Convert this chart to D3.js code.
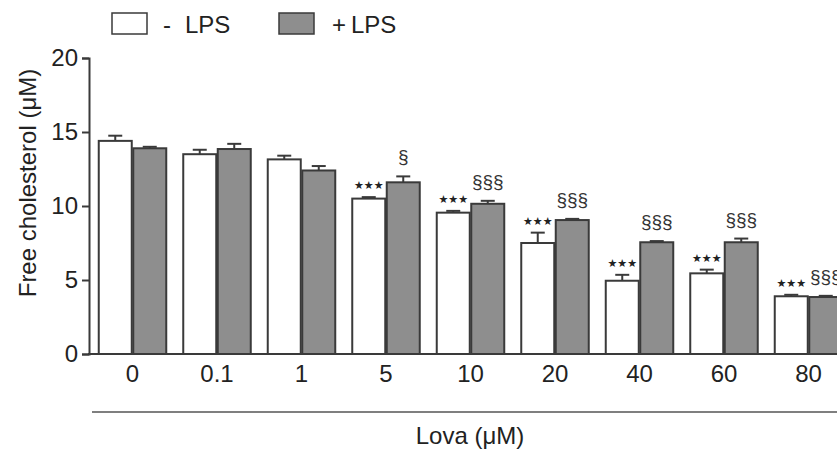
<!DOCTYPE html>
<html lang="en">
<head>
  <meta charset="UTF-8">
  <title>Free cholesterol vs Lova</title>
  <script src="https://d3js.org/d3.v7.min.js"></script>
  <style>
    html, body { margin: 0; padding: 0; background: #fff; }
    svg { display: block; font-family: "Liberation Sans", Arial, sans-serif; }
  </style>
</head>
<body>
  <svg id="chart" width="837" height="450"></svg>
  <script>
    // data
    const doses = ['0', '0.1', '1', '5', '10', '20', '40', '60', '80'];
    const series = ['- LPS', '+ LPS'];
    const minusLps = [14.4, 13.5, 13.15, 10.5, 9.55, 7.5, 4.95, 5.45, 3.9];
    const minusLpsErr = [0.35, 0.3, 0.25, 0.1, 0.12, 0.7, 0.4, 0.25, 0.1];
    const plusLps = [13.9, 13.85, 12.4, 11.6, 10.15, 9.05, 7.55, 7.55, 3.85];
    const plusLpsErr = [0.1, 0.35, 0.3, 0.4, 0.2, 0.08, 0.08, 0.25, 0.08];
    const minusMarks = ['', '', '', '★★★', '★★★', '★★★', '★★★', '★★★', '★★★'];
    const plusMarks = ['', '', '', '§', '§§§', '§§§', '§§§', '§§§', '§§§'];
    const yTicks = [0, 5, 10, 15, 20];

    const svg = d3.select('#chart');
    const ink = '#3a3a3a';
    const fills = ['#ffffff', '#8e8e8e'];
    const font = '"Liberation Sans", Arial, sans-serif';

    const y = d3.scaleLinear().domain([0, 20]).range([354, 58]);
    const x = d3.scaleBand().domain(doses)
      .range([90.25, 90.25 + 9 * 84.5])
      .paddingInner(15.5 / 84.5)
      .paddingOuter(7.75 / 84.5);
    const xs = d3.scaleBand().domain(series).range([0, x.bandwidth()]);

    const rows = doses.map((d, i) => ({
      dose: d,
      vals: [
        { s: series[0], v: minusLps[i], e: minusLpsErr[i], mark: minusMarks[i] },
        { s: series[1], v: plusLps[i], e: plusLpsErr[i], mark: plusMarks[i] }
      ]
    }));

    const groups = svg.append('g').selectAll('g')
      .data(rows).join('g')
      .attr('transform', d => `translate(${x(d.dose)},0)`);

    const bars = groups.selectAll('g').data(d => d.vals).join('g')
      .attr('transform', d => `translate(${xs(d.s)},0)`);

    // error bars (only upward)
    bars.append('line')
      .attr('x1', xs.bandwidth() / 2).attr('x2', xs.bandwidth() / 2)
      .attr('y1', d => y(d.v)).attr('y2', d => y(d.v + d.e))
      .attr('stroke', ink).attr('stroke-width', 2);
    bars.append('line')
      .attr('x1', xs.bandwidth() / 2 - 7).attr('x2', xs.bandwidth() / 2 + 7)
      .attr('y1', d => y(d.v + d.e)).attr('y2', d => y(d.v + d.e))
      .attr('stroke', ink).attr('stroke-width', 2);

    bars.append('rect')
      .attr('x', 0.75)
      .attr('y', d => y(d.v))
      .attr('width', xs.bandwidth() - 1.5)
      .attr('height', d => y(0) - y(d.v))
      .attr('fill', (d, i) => fills[i])
      .attr('stroke', ink).attr('stroke-width', 2);

    // significance marks
    bars.filter(d => d.mark.startsWith('★')).append('text')
      .attr('x', xs.bandwidth() / 2)
      .attr('y', d => y(d.v + d.e) - 8)
      .attr('text-anchor', 'middle')
      .attr('font-family', '"DejaVu Sans", sans-serif')
      .attr('font-size', 11)
      .attr('fill', '#222')
      .text(d => d.mark);
    bars.filter(d => d.mark.startsWith('§')).append('text')
      .attr('x', xs.bandwidth() / 2)
      .attr('y', d => y(d.v + d.e) - 13)
      .attr('text-anchor', 'middle')
      .attr('font-size', 19)
      .attr('fill', '#333')
      .text(d => d.mark);

    // axes
    const yAxis = svg.append('g')
      .attr('transform', 'translate(89,0)')
      .call(d3.axisLeft(y).tickValues(yTicks).tickSize(7).tickPadding(4));
    yAxis.select('.domain').attr('stroke', ink).attr('stroke-width', 2);
    yAxis.selectAll('.tick line').attr('stroke', ink).attr('stroke-width', 2);
    yAxis.selectAll('.tick text').attr('font-size', 24).attr('fill', '#222')
      .attr('font-family', font);

    const xAxis = svg.append('g')
      .attr('transform', `translate(0,${y(0)})`)
      .call(d3.axisBottom(x).tickSize(0).tickPadding(11));
    xAxis.select('.domain').remove();
    xAxis.selectAll('.tick text').attr('font-size', 24).attr('fill', '#222')
      .attr('font-family', font);
    svg.append('line')
      .attr('x1', 88).attr('x2', 837)
      .attr('y1', y(0)).attr('y2', y(0))
      .attr('stroke', ink).attr('stroke-width', 2);

    // lower bracket line and x title
    svg.append('line')
      .attr('x1', 92).attr('x2', 837).attr('y1', 412).attr('y2', 412)
      .attr('stroke', '#555').attr('stroke-width', 1.5);
    svg.append('text')
      .attr('x', 470).attr('y', 444)
      .attr('text-anchor', 'middle').attr('font-size', 24).attr('fill', '#222')
      .text('Lova (μM)');

    svg.append('text')
      .attr('transform', 'translate(36,183) rotate(-90)')
      .attr('text-anchor', 'middle').attr('font-size', 24).attr('fill', '#222')
      .text('Free cholesterol (μM)');

    // legend
    const legendX = [112, 279];
    const legend = svg.append('g').selectAll('g').data(series).join('g')
      .attr('transform', (d, i) => `translate(${legendX[i]},13)`);
    legend.append('rect')
      .attr('width', 35).attr('height', 21)
      .attr('fill', (d, i) => fills[i])
      .attr('stroke', ink).attr('stroke-width', 1.5);
    const legendText = legend.append('text')
      .attr('y', 20).attr('font-size', 24).attr('fill', '#222');
    legendText.append('tspan')
      .attr('x', (d, i) => i === 0 ? 51 : 53)
      .text(d => d.split(' ')[0]);
    legendText.append('tspan')
      .attr('x', (d, i) => i === 0 ? 73 : 72)
      .text(d => d.split(' ')[1]);
  </script>
</body>
</html>
